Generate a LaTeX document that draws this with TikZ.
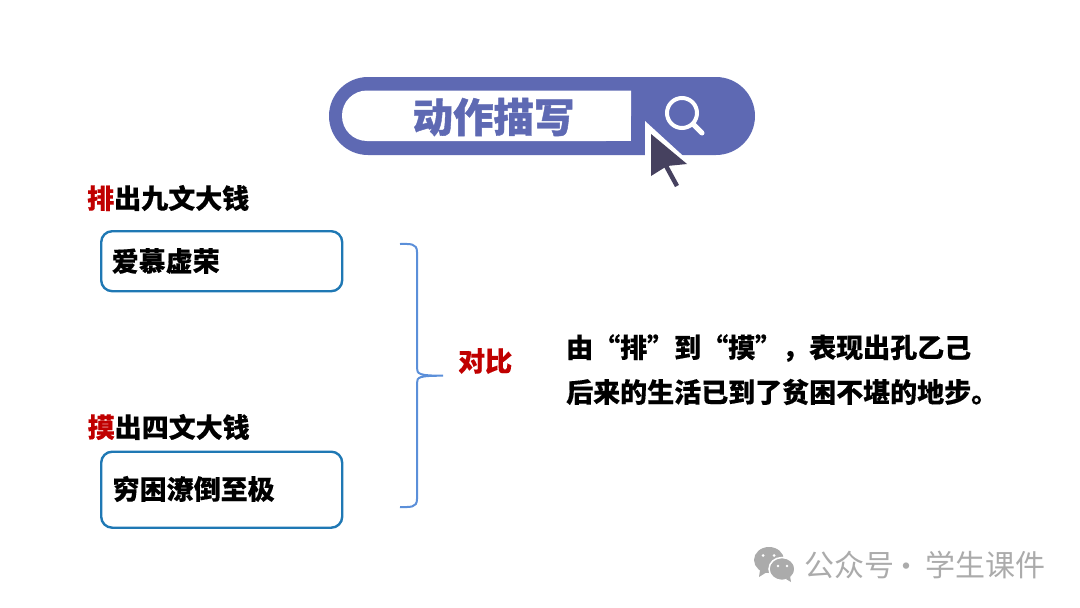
\documentclass[tikz,border=0pt]{standalone}
\usepackage{fontspec}
\newfontfamily\cjk{Noto Sans CJK SC}
\newfontfamily\cjkheavy[BoldFeatures={FakeBold=0.25}]{Noto Sans CJK SC}
\newfontfamily\cjktitle[BoldFeatures={FakeBold=1}]{Noto Sans CJK SC}
\definecolor{barblue}{HTML}{5E69B3}
\definecolor{cursorgray}{HTML}{46415F}
\definecolor{boxblue}{HTML}{1F78B4}
\definecolor{braceblue}{HTML}{5B8FD9}
\definecolor{hotred}{HTML}{C00000}
\definecolor{markgray}{HTML}{ABABAB}
\newcommand{\hot}[1]{\textcolor{hotred}{#1}}
\tikzset{
  textlabel/.style={anchor=west,inner sep=0mm,font=\cjkheavy\bfseries\fontsize{27}{32}\selectfont},
  textbox/.style={draw=boxblue,line width=2.4pt,rounded corners=11pt,minimum width=241pt,anchor=north west},
  marktext/.style={anchor=west,inner sep=0mm,text=markgray,font=\cjk\fontsize{30}{32}\selectfont}
}
\begin{document}
\begin{tikzpicture}[x=1pt,y=-1pt]
  \useasboundingbox (0,0) rectangle (1080,608);
  % search bar
  \node[fill=barblue,rounded corners=39pt,minimum width=426pt,minimum height=78pt,inner sep=0mm] at (542,116) (bar) {};
  \fill[white,rounded corners=25pt] (631,90.5) -- (342,90.5) -- (342,141) -- (631,141) [sharp corners] -- cycle;
  \fill[white] (600,90.5) rectangle (631,141);
  \node[inner sep=0mm,text=barblue,font=\cjktitle\bfseries\fontsize{40.5}{44}\selectfont] at (493.5,117) (title) {动作描写};
  % magnifier
  \draw[white,line width=4pt] (682,113) circle (15);
  \draw[white,line width=5pt,line cap=round] (693,124) -- (702,133);
  % cursor
  \fill[white] (645,121) -- (692,164) -- (651,180) -- (645,160) -- cycle;
  \draw[cursorgray,line width=4.5pt] (665,164) -- (677,186);
  \fill[cursorgray] (651,134) -- (687,164) -- (667,166) -- (651,176) -- cycle;
  % left column
  \node[textlabel] at (87,198) (pai) {\hot{排}出九文大钱};
  \node[textbox,minimum height=60pt] at (100,230) (box1) {};
  \node[textlabel] at (111.5,261) (aimu) {爱慕虚荣};
  \node[textlabel] at (87.5,427) (mo) {\hot{摸}出四文大钱};
  \node[textbox,minimum height=76pt] at (100,450.5) (box2) {};
  \node[textlabel] at (112.5,489) (qiong) {穷困潦倒至极};
  % brace
  \coordinate (bracetop) at (400,244);
  \coordinate (bracebot) at (400,507);
  \coordinate (bracetip) at (443,375.7);
  \draw[braceblue,line width=2pt] (bracetop) .. controls (410,244) and (417,243) .. (417,252)
    -- (417,368) .. controls (417,374) and (419,375.7) .. (bracetip)
    (bracebot) .. controls (410,507) and (417,508) .. (417,499)
    -- (417,383) .. controls (417,377) and (419,375.7) .. (bracetip);
  \node[textlabel,text=hotred] at (458,361) (duibi) {对比};
  % right text
  \node[textlabel] at (566,348) (line1) {由“排”到“摸”，表现出孔乙己};
  \node[textlabel] at (566,392) (line2) {后来的生活已到了贫困不堪的地步。};
  % watermark
  \fill[markgray] (769,560) ellipse (15 and 13);
  \fill[markgray] (760,570) -- (759,577) -- (767,572) -- cycle;
  \fill[markgray,draw=white,line width=1.5pt] (782,569) ellipse (13 and 11.5);
  \fill[markgray] (786,579) -- (791,582) -- (790,576) -- cycle;
  \fill[white] (763,555.5) circle (1.5) (774,555.5) circle (1.5) (778,566) circle (1.4) (787,566) circle (1.4);
  \node[marktext] at (804,565) (wm1) {公众号};
  \node[marktext,anchor=center] at (906.5,570) (wmdot) {·};
  \node[marktext] at (925.5,565) (wm2) {学生课件};
\end{tikzpicture}
\end{document}
